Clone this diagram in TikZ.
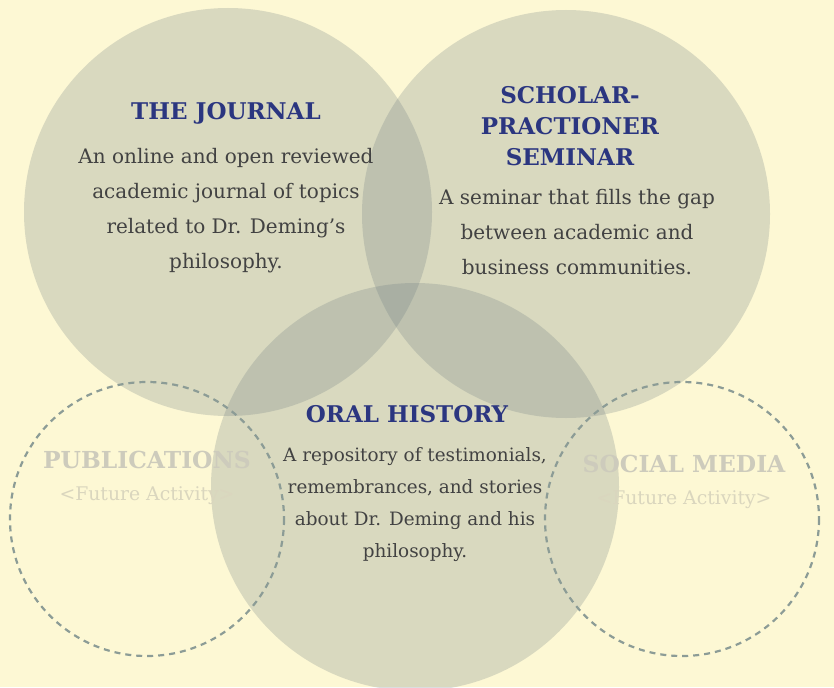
\documentclass[tikz,border=0pt]{standalone}
\usepackage{fontspec}
\setmainfont{DejaVu Serif}
\definecolor{bgc}{RGB}{253,248,212}
\definecolor{circc}{RGB}{110,125,130}
\definecolor{dashc}{RGB}{140,156,150}
\definecolor{navy}{RGB}{43,54,128}
\definecolor{bodyc}{RGB}{66,66,66}
\definecolor{fadet}{RGB}{205,203,188}
\definecolor{fadeb}{RGB}{218,214,190}
\begin{document}
\begin{tikzpicture}[x=1pt,y=-1pt,
  bubble/.style={fill=circc,fill opacity=0.25,draw=none},
  future/.style={draw=dashc,line width=2.2pt,dash pattern=on 6pt off 5pt},
  ttl/.style={font=\bfseries\fontsize{23}{31}\selectfont,text=navy,align=center,inner sep=0pt},
  bdy/.style={font=\fontsize{20}{35}\selectfont,text=bodyc,align=center,inner sep=0pt},
  fttl/.style={font=\bfseries\fontsize{23.4}{24}\selectfont,text=fadet,align=center,inner sep=0pt},
  fbdy/.style={font=\fontsize{18.8}{20}\selectfont,text=fadeb,align=center,inner sep=0pt}]
\fill[bgc] (0,0) rectangle (834,687);
\useasboundingbox (0,0) rectangle (834,687);
\fill[bubble] (228,212) circle[radius=204];
\fill[bubble] (566,214) circle[radius=204];
\fill[bubble] (415,487) circle[radius=204];
\draw[future] (147,519) circle[radius=137];
\draw[future] (682,519) circle[radius=137];
\node[ttl] (jt) at (226,113) {THE JOURNAL};
\node[bdy] (jb) at (226,211) {An online and open reviewed\\academic journal of topics\\related to Dr. Deming’s\\philosophy.};
\node[ttl] (st) at (570,126) {SCHOLAR-\\PRACTIONER\\SEMINAR};
\node[ttl] (ot) at (407,414) {ORAL HISTORY};
\node[bdy,font=\fontsize{18.4}{32}\selectfont] (ob) at (415,505) {A repository of testimonials,\\remembrances, and stories\\about Dr. Deming and his\\philosophy.};
\node[bdy] (sb) at (577,232) {A seminar that fills the gap\\between academic and\\business communities.};
\node[fttl] (pt) at (147,460) {PUBLICATIONS};
\node[fbdy] (pb) at (147,496) {<Future Activity>};
\node[fttl] (mt) at (684,464) {SOCIAL MEDIA};
\node[fbdy] (mb) at (684,500) {<Future Activity>};
\end{tikzpicture}
\end{document}
